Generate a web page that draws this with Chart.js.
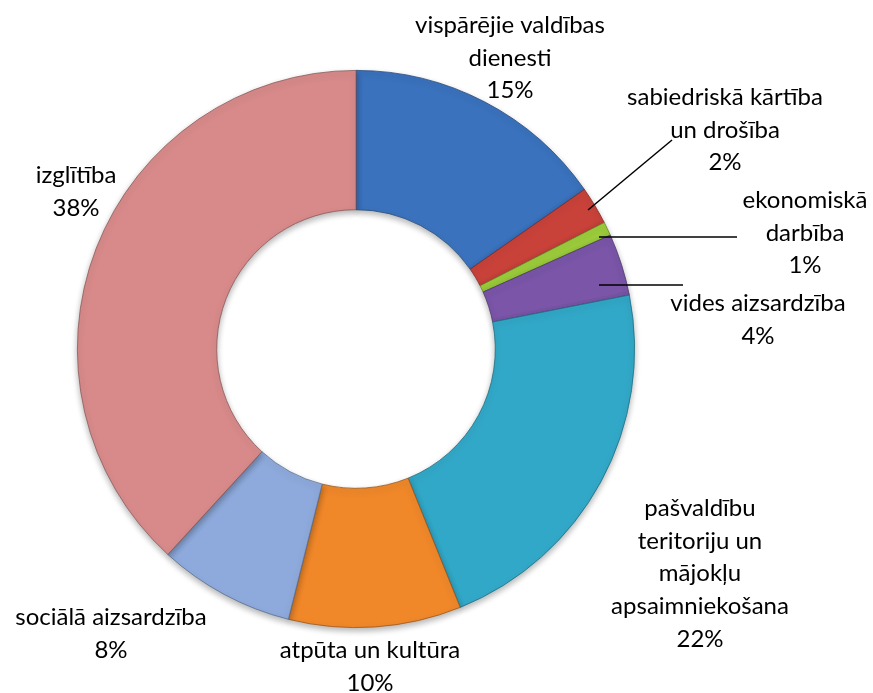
<!DOCTYPE html>
<html>
<head>
<meta charset="utf-8">
<script src="https://cdn.jsdelivr.net/npm/chart.js@4.4.1/dist/chart.umd.min.js"></script>
<style>
html,body{margin:0;padding:0;background:#fff;}
#wrap{width:873px;height:693px;position:relative;}
</style>
</head>
<body>
<div id="wrap"><canvas id="c" width="873" height="693"></canvas></div>
<script>
const categories = [
  "vispārējie valdības dienesti",
  "sabiedriskā kārtība un drošība",
  "ekonomiskā darbība",
  "vides aizsardzība",
  "pašvaldību teritoriju un mājokļu apsaimniekošana",
  "atpūta un kultūra",
  "sociālā aizsardzība",
  "izglītība"
];
const values = [15.3, 2.2, 0.8, 3.6, 22.0, 10.0, 7.9, 38.2];
const percentLabels = ["15%", "2%", "1%", "4%", "22%", "10%", "8%", "38%"];
const labelLines = [
  ["vispārējie valdības", "dienesti", "15%"],
  ["sabiedriskā kārtība", "un drošība", "2%"],
  ["ekonomiskā", "darbība", "1%"],
  ["vides aizsardzība", "4%"],
  ["pašvaldību", "teritoriju un", "mājokļu", "apsaimniekošana", "22%"],
  ["atpūta un kultūra", "10%"],
  ["sociālā aizsardzība", "8%"],
  ["izglītība", "38%"]
];
const colors = ["#3a72bd", "#c8423a", "#9ccc3c", "#7a55a8", "#32a8c8", "#f0882a", "#8eaadc", "#d88a8a"];

// label placement (layout config, relative to the chart centre)
const labelPlacement = [
  {dx: 154, dy: -324},
  {dx: 369, dy: -252},
  {dx: 449, dy: -149},
  {dx: 402, dy: -46},
  {dx: 344, dy: 159},
  {dx: 14, dy: 301},
  {dx: -245, dy: 268},
  {dx: -280, dy: -174}
];
// leader lines (layout config, relative to the chart centre)
const leaders = [
  {fx: 316, fy: -209, tx: 232, ty: -139},
  {fx: 381, fy: -112, tx: 243, ty: -112},
  {fx: 327, fy: -64, tx: 243, ty: -64}
];

function shade(hex, amt) {
  const n = parseInt(hex.slice(1), 16);
  let r = (n >> 16) & 255, g = (n >> 8) & 255, b = n & 255;
  const f = v => Math.max(0, Math.min(255, Math.round(amt >= 0 ? v + (255 - v) * amt : v * (1 + amt))));
  return `rgb(${f(r)},${f(g)},${f(b)})`;
}

const shadowPlugin = {
  id: 'shadow',
  beforeDatasetsDraw(chart) {
    const ctx = chart.ctx;
    ctx.save();
    ctx.shadowColor = 'rgba(0,0,0,0.3)';
    ctx.shadowBlur = 6;
    ctx.shadowOffsetY = 3;
  },
  afterDatasetsDraw(chart) {
    chart.ctx.restore();
  }
};

const labelPlugin = {
  id: 'outLabels',
  afterDatasetsDraw(chart) {
    const ctx = chart.ctx;
    const meta = chart.getDatasetMeta(0);
    const a0 = meta.data[0];
    const cx = a0.x, cy = a0.y;
    ctx.save();
    ctx.strokeStyle = '#000';
    ctx.lineWidth = 1.5;
    leaders.forEach(L => {
      ctx.beginPath();
      ctx.moveTo(cx + L.fx, cy + L.fy);
      ctx.lineTo(cx + L.tx, cy + L.ty);
      ctx.stroke();
    });
    ctx.fillStyle = '#000';
    ctx.font = '24px Lato, "Open Sans", sans-serif';
    ctx.textAlign = 'center';
    ctx.textBaseline = 'middle';
    const lh = 32.8;
    labelLines.forEach((lines, i) => {
      const p = labelPlacement[i];
      const x = cx + p.dx, y0 = cy + p.dy;
      lines.forEach((t, k) => ctx.fillText(t, x, y0 + k * lh));
    });
    ctx.restore();
  }
};

new Chart(document.getElementById('c'), {
  type: 'doughnut',
  data: {
    labels: categories,
    datasets: [{
      data: values,
      backgroundColor: (c) => {
        const chart = c.chart;
        const meta = chart.getDatasetMeta(0);
        const arc = meta.data[c.dataIndex];
        const base = colors[c.dataIndex];
        if (!arc || !arc.outerRadius) return base;
        const g = chart.ctx.createRadialGradient(arc.x, arc.y, arc.innerRadius, arc.x, arc.y, arc.outerRadius);
        g.addColorStop(0, shade(base, 0.3));
        g.addColorStop(0.07, base);
        g.addColorStop(0.92, base);
        g.addColorStop(1, shade(base, -0.2));
        return g;
      },
      borderColor: colors.map(c => shade(c, -0.35)),
      borderWidth: 0.8
    }]
  },
  options: {
    responsive: false,
    animation: false,
    cutout: '50%',
    layout: {padding: {left: 77, right: 238, top: 70, bottom: 65}},
    plugins: {legend: {display: false}, tooltip: {enabled: false}}
  },
  plugins: [shadowPlugin, labelPlugin]
});
</script>
</body>
</html>
